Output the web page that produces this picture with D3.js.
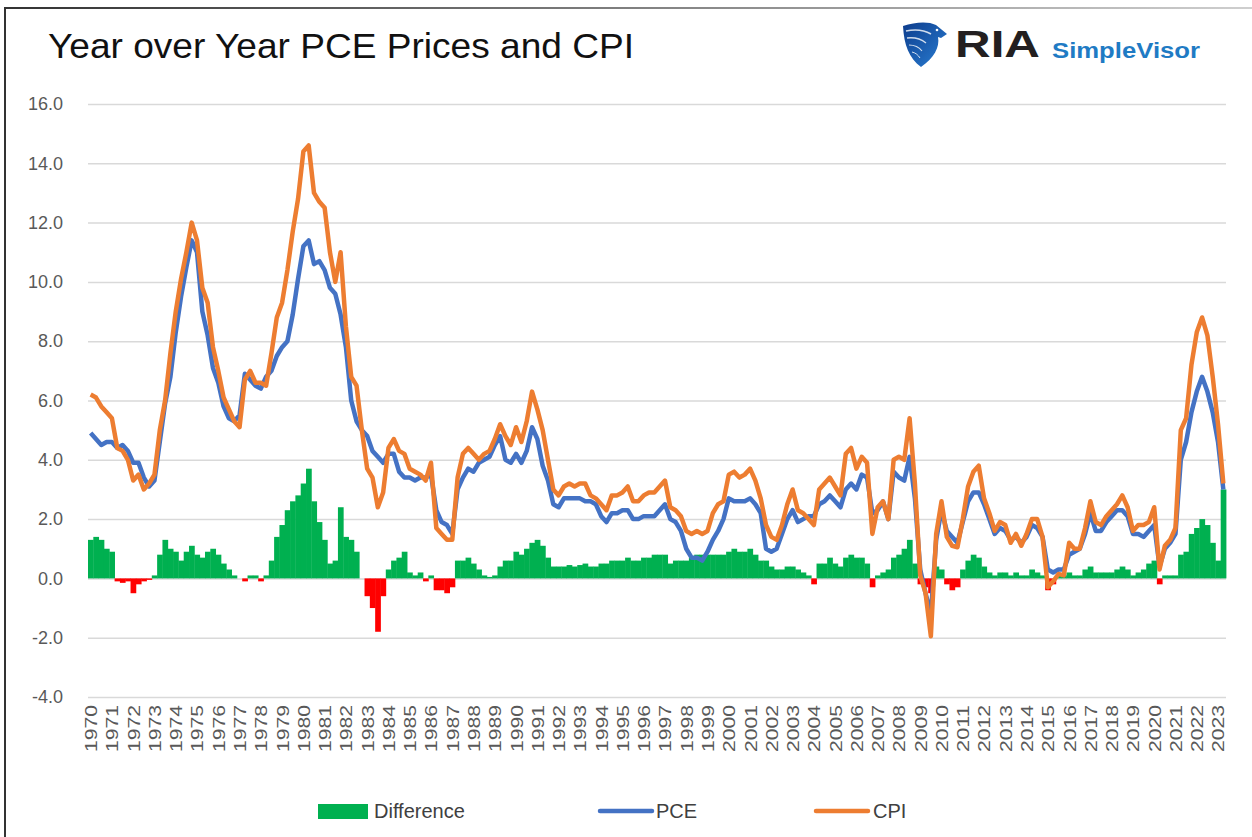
<!DOCTYPE html>
<html>
<head>
<meta charset="utf-8">
<script src="https://cdn.jsdelivr.net/npm/d3@7"></script>
<style>
  body { margin: 0; background: #fff; }
  text { font-family: "Liberation Sans", Arial, sans-serif; }
</style>
</head>
<body>
<div id="chart"></div>
<script>
// quarterly values, 1970 Q1 .. 2023 Q2 (year over year %)
var years = d3.range(1970, 2024);

var cpi = [
  6.2, 6.1, 5.8, 5.6,   5.4, 4.4, 4.3, 4.0,   3.3, 3.5, 3.0, 3.2,   3.5, 5.0, 6.0, 7.6,
  9.0, 10.1, 11.0, 12.0, 11.4, 9.8, 9.3, 7.8, 7.0, 6.1, 5.7, 5.3,   5.1, 6.7, 7.0, 6.6,
  6.6, 6.5, 7.6, 8.8,   9.3, 10.4, 11.7, 12.8, 14.4, 14.6, 13.0, 12.7, 12.5, 11.0, 10.0, 11.0,
  8.5, 6.8, 6.5, 5.0,   3.7, 3.4, 2.4, 2.9,   4.4, 4.7, 4.3, 4.2,   3.7, 3.6, 3.5, 3.3,
  3.9, 1.7, 1.5, 1.3,   1.3, 3.4, 4.2, 4.4,   4.2, 4.0, 4.2, 4.3,   4.7, 5.2, 4.8, 4.5,
  5.1, 4.6, 5.3, 6.3,   5.7, 5.0, 4.0, 3.0,   2.8, 3.1, 3.2, 3.1,   3.2, 3.2, 2.8, 2.7,
  2.5, 2.3, 2.8, 2.8,   2.9, 3.1, 2.6, 2.6,   2.8, 2.9, 2.9, 3.1,   3.3, 2.4, 2.3, 2.1,
  1.6, 1.5, 1.6, 1.5,   1.6, 2.2, 2.5, 2.6,   3.5, 3.6, 3.4, 3.5,   3.7, 3.3, 2.7, 1.8,
  1.4, 1.3, 1.8, 2.5,   3.0, 2.3, 2.2, 2.0,   1.8, 3.0, 3.2, 3.4,   3.1, 2.8, 4.2, 4.4,
  3.7, 4.1, 3.9, 1.5,   2.4, 2.6, 2.0, 4.0,   4.1, 4.0, 5.4, 3.2,   0.1, -0.5, -1.95, 1.5,
  2.6, 1.4, 1.1, 1.05,  2.0, 3.1, 3.6, 3.8,   2.7, 2.2, 1.6, 1.9,   1.8, 1.2, 1.5, 1.1,
  1.5, 2.0, 2.0, 1.4,   -0.3, -0.1, 0.15, 0.1, 1.2, 1.0, 1.0, 1.7,  2.6, 1.9, 1.8, 2.1,
  2.3, 2.5, 2.8, 2.4,   1.6, 1.8, 1.8, 1.9,   2.4, 0.3, 1.1, 1.3,   1.7, 5.0, 5.4, 7.2,
  8.3, 8.8, 8.2, 6.8,   5.2, 3.2
];

var pce = [
  4.9, 4.7, 4.5, 4.6,   4.6, 4.4, 4.5, 4.3,   3.9, 3.9, 3.4, 3.1,   3.3, 4.6, 5.9, 6.8,
  8.3, 9.5, 10.5, 11.4, 11.0, 9.0, 8.2, 7.1,  6.6, 5.8, 5.4, 5.3,   5.5, 6.9, 6.7, 6.5,
  6.4, 6.8, 7.0, 7.5,   7.8, 8.0, 8.9, 10.1,  11.2, 11.4, 10.6, 10.7, 10.4, 9.8, 9.6, 8.9,
  7.8, 6.0, 5.3, 5.0,   4.8, 4.3, 4.1, 3.9,   4.2, 4.2, 3.6, 3.4,   3.4, 3.3, 3.4, 3.4,
  3.5, 2.3, 1.9, 1.8,   1.5, 3.0, 3.4, 3.7,   3.6, 3.9, 4.0, 4.1,   4.5, 4.8, 4.0, 3.9,
  4.2, 3.9, 4.3, 5.1,   4.7, 3.8, 3.3, 2.5,   2.4, 2.7, 2.7, 2.7,   2.7, 2.6, 2.6, 2.5,
  2.1, 1.9, 2.2, 2.2,   2.3, 2.3, 2.0, 2.0,   2.1, 2.1, 2.1, 2.3,   2.5, 2.0, 1.9, 1.6,
  1.0, 0.7, 0.7, 0.6,   0.9, 1.3, 1.6, 2.0,   2.7, 2.6, 2.6, 2.6,   2.7, 2.5, 2.2, 1.0,
  0.9, 1.0, 1.5, 2.0,   2.3, 1.9, 2.0, 2.1,   2.1, 2.5, 2.6, 2.8,   2.6, 2.4, 3.0, 3.2,
  3.0, 3.5, 3.4, 2.2,   2.3, 2.6, 2.0, 3.6,   3.4, 3.3, 4.1, 2.7,   0.3, -0.5, -1.2, 1.3,
  2.3, 1.6, 1.4, 1.2,   1.9, 2.6, 2.9, 2.9,   2.5, 2.0, 1.5, 1.7,   1.6, 1.3, 1.4, 1.2,
  1.4, 1.8, 1.7, 1.4,   0.3, 0.2, 0.3, 0.3,   0.8, 0.9, 1.0, 1.5,   2.2, 1.6, 1.6, 1.9,
  2.1, 2.3, 2.3, 2.1,   1.5, 1.5, 1.4, 1.6,   1.8, 0.4, 1.0, 1.2,   1.5, 4.0, 4.6, 5.6,
  6.3, 6.8, 6.3, 5.6,   4.6, 3.0
];

var diff = [
  1.3, 1.4, 1.3, 1.0,   0.9, -0.1, -0.15, -0.1, -0.5, -0.2, -0.1, -0.05, 0.1, 0.8, 1.3, 1.0,
  0.9, 0.6, 0.9, 1.1,   0.8, 0.7, 0.9, 1.0,   0.8, 0.5, 0.3, 0.1,   0.0, -0.1, 0.1, 0.1,
  -0.1, 0.1, 0.6, 1.4,  1.8, 2.3, 2.6, 2.8,   3.2, 3.7, 2.6, 1.9,   1.3, 0.5, 0.6, 2.4,
  1.4, 1.3, 0.9, 0.0,   -0.6, -1.0, -1.8, -0.6, 0.3, 0.6, 0.7, 0.9,  0.2, 0.1, 0.2, -0.1,
  0.1, -0.4, -0.4, -0.5, -0.3, 0.6, 0.6, 0.7,  0.5, 0.3, 0.1, 0.05,  0.1, 0.4, 0.6, 0.6,
  0.9, 0.8, 1.0, 1.2,   1.3, 1.1, 0.7, 0.4,   0.4, 0.4, 0.45, 0.4,  0.45, 0.5, 0.4, 0.4,
  0.5, 0.5, 0.6, 0.6,   0.6, 0.7, 0.6, 0.6,   0.7, 0.7, 0.8, 0.8,   0.8, 0.5, 0.6, 0.6,
  0.6, 0.7, 0.8, 0.8,   0.8, 0.8, 0.8, 0.8,   0.9, 1.0, 0.9, 0.9,   1.0, 0.8, 0.6, 0.6,
  0.4, 0.3, 0.3, 0.4,   0.4, 0.3, 0.2, 0.1,   -0.2, 0.5, 0.5, 0.7,  0.5, 0.4, 0.7, 0.8,
  0.7, 0.7, 0.5, -0.3,  0.1, 0.2, 0.3, 0.7,   0.8, 1.0, 1.3, 0.5,   -0.2, -0.3, -0.5, 0.4,
  0.3, -0.2, -0.4, -0.3, 0.3, 0.6, 0.8, 0.7,  0.4, 0.2, 0.1, 0.2,   0.2, 0.1, 0.2, 0.1,
  0.1, 0.3, 0.2, 0.1,   -0.4, -0.2, 0.1, 0.1, 0.2, 0.1, 0.1, 0.3,   0.4, 0.2, 0.2, 0.2,
  0.2, 0.3, 0.4, 0.3,   0.1, 0.2, 0.3, 0.5,   0.6, -0.2, 0.1, 0.1,  0.1, 0.8, 0.9, 1.5,
  1.7, 2.0, 1.8, 1.2,   0.6, 3.0
];

var yTicks = d3.range(-4, 17, 2);

var svgWidth = 1252;
var svgHeight = 837;

// plot box
var plotLeft = 88, plotRight = 1226, plotTop = 104, plotBottom = 697;

var svg = d3.select("#chart").append("svg")
  .attr("width", svgWidth)
  .attr("height", svgHeight);

var defs = svg.append("defs");

var frameGrad = defs.append("linearGradient").attr("id", "frameGrad")
  .attr("x1", "0").attr("x2", "1").attr("y1", "0").attr("y2", "0");
frameGrad.append("stop").attr("offset", "0").attr("stop-color", "#333");
frameGrad.append("stop").attr("offset", "0.55").attr("stop-color", "#888");
frameGrad.append("stop").attr("offset", "1").attr("stop-color", "#d0d0d0");

var shieldGrad = defs.append("linearGradient").attr("id", "shieldGrad")
  .attr("x1", "0").attr("x2", "1").attr("y1", "0").attr("y2", "1");
shieldGrad.append("stop").attr("offset", "0").attr("stop-color", "#0d3c8c");
shieldGrad.append("stop").attr("offset", "1").attr("stop-color", "#2a7fd4");

// screenshot frame
svg.append("path")
  .attr("d", "M5,840 V8 H1260")
  .attr("fill", "none")
  .attr("stroke", "url(#frameGrad)")
  .attr("stroke-width", 2);

// title
svg.append("text")
  .attr("x", 48)
  .attr("y", 58)
  .attr("font-size", "35px")
  .attr("fill", "#111")
  .attr("textLength", 586)
  .attr("lengthAdjust", "spacingAndGlyphs")
  .text("Year over Year PCE Prices and CPI");

// logo
var logo = svg.append("g");
logo.append("path")
  .attr("d", "M903,26 C915,22 928,21 936,25 L947,34 L941,38 L938,37 C940,47 934,58 921,67 C909,58 904,45 903,26 Z")
  .attr("fill", "url(#shieldGrad)");
[["M906,31 C915,29 924,30 931,34", 1.6], ["M907,38 C915,37 921,39 926,43", 1.4],
 ["M909,45 C915,45 919,47 922,51", 1.2], ["M912,52 C916,53 918,55 920,58", 1.0]]
  .forEach(function(p) {
    logo.append("path").attr("d", p[0]).attr("fill", "none")
      .attr("stroke", "#fff").attr("stroke-width", p[1]).attr("opacity", 0.8);
  });
logo.append("circle").attr("cx", 937).attr("cy", 30).attr("r", 1.3).attr("fill", "#fff");
logo.append("text")
  .attr("x", 955).attr("y", 57)
  .attr("font-size", "36px")
  .attr("font-weight", "bold")
  .attr("fill", "#231f20")
  .attr("textLength", 85)
  .attr("lengthAdjust", "spacingAndGlyphs")
  .text("RIA");
logo.append("text")
  .attr("x", 1052).attr("y", 58)
  .attr("font-size", "22px")
  .attr("font-weight", "bold")
  .attr("fill", "#1f7bc4")
  .attr("textLength", 148)
  .attr("lengthAdjust", "spacingAndGlyphs")
  .text("SimpleVisor");

// scales (x is quarter index)
var xScale = d3.scaleLinear()
  .domain([0, cpi.length])
  .range([plotLeft, plotRight]);

var yScale = d3.scaleLinear()
  .domain([-4, 16])
  .range([plotBottom, plotTop]);

// y axis with gridlines
var yAxis = d3.axisLeft(yScale)
  .tickValues(yTicks)
  .tickFormat(function(d) { return d.toFixed(1); })
  .tickSize(-(plotRight - plotLeft))
  .tickPadding(25);

var yG = svg.append("g")
  .attr("transform", `translate(${plotLeft}, 0)`)
  .call(yAxis);
yG.select(".domain").remove();
yG.selectAll(".tick line").attr("stroke", "#d9d9d9").attr("stroke-width", 1.5);
yG.selectAll(".tick text")
  .attr("font-size", "18px")
  .attr("fill", "#595959")
  .style("font-family", "'Liberation Sans', Arial, sans-serif");

// x axis: one label per year, rotated
var yearIdx = years.map(function(y) { return (y - 1970) * 4 + 0.5; });
var xAxis = d3.axisBottom(xScale)
  .tickValues(yearIdx)
  .tickFormat(function(d, i) { return years[i]; })
  .tickSize(0);

var xG = svg.append("g")
  .attr("transform", `translate(0, ${plotBottom})`)
  .call(xAxis);
xG.select(".domain").remove();
xG.selectAll(".tick text")
  .attr("transform", "translate(0, 8) rotate(-90)")
  .attr("text-anchor", "end")
  .attr("x", 0)
  .attr("y", 0)
  .attr("dy", "0.36em")
  .attr("font-size", "16.5px")
  .attr("fill", "#595959")
  .attr("textLength", 47)
  .attr("lengthAdjust", "spacingAndGlyphs")
  .style("font-family", "'Liberation Sans', Arial, sans-serif");

// difference bars
svg.append("g").selectAll("rect")
  .data(diff)
  .enter().append("rect")
  .attr("x", function(d, i) { return xScale(i); })
  .attr("width", function(d, i) { return xScale(i + 1) - xScale(i) + 0.4; })
  .attr("y", function(d) { return yScale(Math.max(0, d)); })
  .attr("height", function(d) { return Math.abs(yScale(d) - yScale(0)); })
  .attr("fill", function(d) { return d >= 0 ? "#00b050" : "#ff0000"; });

// lines
var line = d3.line()
  .x(function(d, i) { return xScale(i + 0.5); })
  .y(function(d) { return yScale(d); });

svg.append("path")
  .datum(pce)
  .attr("d", line)
  .attr("fill", "none")
  .attr("stroke", "#4472c4")
  .attr("stroke-width", 4.5)
  .attr("stroke-linejoin", "round");

svg.append("path")
  .datum(cpi)
  .attr("d", line)
  .attr("fill", "none")
  .attr("stroke", "#ed7d31")
  .attr("stroke-width", 4.5)
  .attr("stroke-linejoin", "round");

// legend
var legend = svg.append("g");
legend.append("rect")
  .attr("x", 318).attr("y", 804).attr("width", 50).attr("height", 15)
  .attr("fill", "#00b050");
legend.append("text")
  .attr("x", 374).attr("y", 811).attr("dy", "0.36em")
  .attr("font-size", "20px").attr("fill", "#404040")
  .text("Difference");
legend.append("line")
  .attr("x1", 600).attr("x2", 652).attr("y1", 811).attr("y2", 811)
  .attr("stroke", "#4472c4").attr("stroke-width", 4.5).attr("stroke-linecap", "round");
legend.append("text")
  .attr("x", 656).attr("y", 811).attr("dy", "0.36em")
  .attr("font-size", "20px").attr("fill", "#404040")
  .text("PCE");
legend.append("line")
  .attr("x1", 816).attr("x2", 868).attr("y1", 811).attr("y2", 811)
  .attr("stroke", "#ed7d31").attr("stroke-width", 4.5).attr("stroke-linecap", "round");
legend.append("text")
  .attr("x", 873).attr("y", 811).attr("dy", "0.36em")
  .attr("font-size", "20px").attr("fill", "#404040")
  .text("CPI");
</script>
</body>
</html>
